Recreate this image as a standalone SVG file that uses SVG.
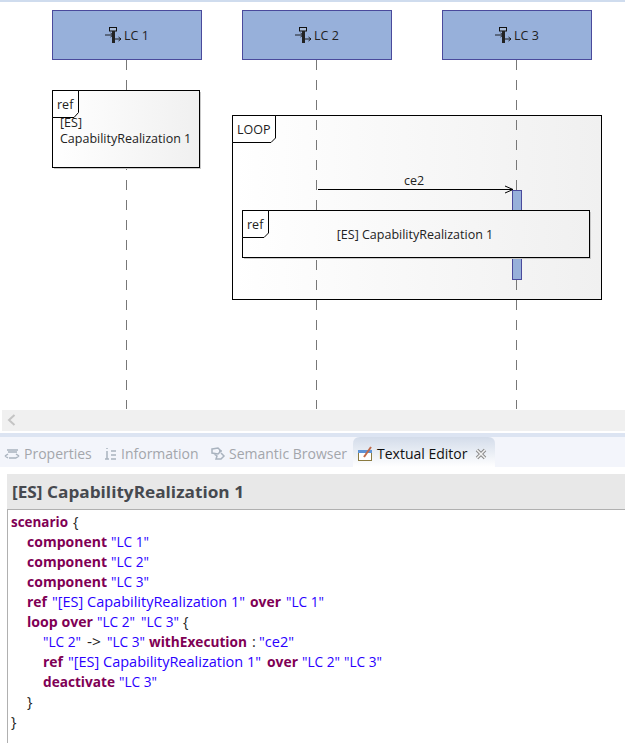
<svg xmlns="http://www.w3.org/2000/svg" width="625" height="743" viewBox="0 0 625 743">
<style>
text{font-family:"Open Sans","Noto Sans","Liberation Sans",sans-serif;font-size:12.5px;fill:#222}
.lc{fill:#97b0da;stroke:#4a4a9c;stroke-width:1}
.life{stroke:#777;stroke-width:1;stroke-dasharray:10 10;fill:none}
.frame{stroke:#000;stroke-width:1;fill:url(#g)}
.tab{stroke:#000;stroke-width:1;fill:#fff}
.code{font-size:14.5px}
.k{fill:#7f0055;font-weight:700}
.s{fill:#2a00ff}
.p{fill:#222}
.dim{fill:#a3a6ab;font-size:14px}
</style>
<defs>
<linearGradient id="g" x1="0" x2="1" y1="0" y2="0"><stop offset="0" stop-color="#fff"/><stop offset="1" stop-color="#f0f0f0"/></linearGradient>
<linearGradient id="t" x1="0" x2="0" y1="0" y2="1"><stop offset="0" stop-color="#d3dcea"/><stop offset="1" stop-color="#fff"/></linearGradient>
<marker id="open" markerWidth="10" markerHeight="10" refX="9" refY="5" orient="auto" markerUnits="userSpaceOnUse"><path d="M1 1.500L9 5L1 8.500" fill="none" stroke="#000"/></marker>
<g id="comp"><path d="M-8 0h8M0 0l-2.500 -2M0 0l-2.500 2M2 4h6M8 4l-2.500 -2M8 4l-2.500 2" stroke="#111" fill="none" stroke-width=".9"/><rect x="-3.500" y="-7.500" width="7" height="3.500" fill="#a9bcd9" stroke="#111"/><rect x="-1" y="-4" width="3" height="12" fill="#222"/></g>
</defs>
<rect width="625" height="743" fill="#fff"/>
<rect width="625" height="2" fill="#cfdcee"/>
<g id="connectors">
<path class="life" d="M126.500 60V409M316.500 60V409M516.500 60V409"/>
</g>
<g id="lc1"><rect class="lc" x="52.500" y="10.500" width="149" height="49"/><use href="#comp" x="113" y="35"/><text x="124" y="40">LC 1</text></g>
<g id="lc2"><rect class="lc" x="242.500" y="10.500" width="149" height="49"/><use href="#comp" x="303" y="35"/><text x="314" y="40">LC 2</text></g>
<g id="lc3"><rect class="lc" x="442.500" y="10.500" width="149" height="49"/><use href="#comp" x="503" y="35"/><text x="514" y="40">LC 3</text></g>
<g id="ref1">
<rect x="54" y="92" width="147" height="77" fill="#c9c9c9"/>
<rect class="frame" x="52.500" y="90.500" width="147" height="77"/>
<text x="60" y="127">[ES]</text><text x="60" y="143">CapabilityRealization 1</text>
<path class="tab" d="M52.500 90.500H78.500V112.500L74 117.500H52.500Z"/>
<text x="57" y="109">ref</text>
</g>
<g id="loop">
<rect class="frame" x="232.500" y="115.500" width="369" height="184"/>
<path class="tab" d="M232.500 115.500H275.500V138L271 142.500H232.500Z"/>
<text x="237" y="134">LOOP</text>
</g>
<g id="connectors-2">
<path class="life" d="M316.500 120V300M516.500 120V300"/>
<path d="M318 189.500H513" stroke="#000" fill="none" marker-end="url(#open)"/>
<text x="414" y="185" text-anchor="middle">ce2</text>
</g>
<g id="exec"><rect class="lc" x="512.500" y="190.500" width="9" height="89"/></g>
<g id="ref2">
<rect x="244" y="212" width="347" height="47" fill="#c9c9c9"/>
<rect class="frame" x="242.500" y="210.500" width="347" height="47"/>
<path class="tab" d="M242.500 210.500H268.500V233L264 237.500H242.500Z"/>
<text x="247" y="229">ref</text>
<text x="415" y="239" text-anchor="middle">[ES] CapabilityRealization 1</text>
</g>
<g id="panel">
<rect x="2" y="410" width="623" height="21" fill="#f0f0f0"/>
<path d="M14.500 415L9 420L14.500 425" fill="none" stroke="#c4c4c4" stroke-width="2"/>
<rect y="433" width="625" height="4" fill="#dce4f2"/>
<rect y="437" width="625" height="30" fill="#f3f5fb"/>
<rect y="467" width="625" height="7" fill="#fff"/>
<path d="M353 467V444Q353 437 360 437H488Q495 437 495 444V467Z" fill="url(#t)"/>
<g fill="none" stroke="#a9b3bf" stroke-width="1.500"><path d="M7 450h11M8 452h9M5 456l3-2M5 456l3 2M19 456l-3-2M19 456l-3 2M9 458h7"/><path d="M107 448v1M107 451v8M105 459h4M111 451h5M111 455h5M111 459h5"/><path d="M212 449l6-1 3 3-3 3-6-1zM214 454l3 2-1 3h5l3-3-3-3M219 451h3"/></g>
<text class="dim" x="24" y="459">Properties</text>
<text class="dim" x="121" y="459">Information</text>
<text class="dim" x="229" y="459">Semantic Browser</text>
<rect x="358.500" y="450.500" width="13" height="10" fill="#fff" stroke="#8a7a40"/><path d="M358 450h14v3h-14z" fill="#5e93d6"/><path d="M364 457l7-10" stroke="#c06a4a" stroke-width="2"/>
<text x="377" y="459" style="font-size:14px;fill:#111">Textual Editor</text>
<path d="M477 450l8 8M485 450l-8 8" stroke="#8a8a8a" stroke-width="3.500"/><path d="M477 450l8 8M485 450l-8 8" stroke="#f2f2f2" stroke-width="1.500"/>
<rect x="7" y="474" width="618" height="35" fill="#e8e8e8"/>
<rect x="7" y="509" width="618" height="1" fill="#b0b0b0"/>
<rect x="7" y="509" width="1" height="234" fill="#b0b0b0"/>
<text x="12" y="498" style="font-size:16.5px;font-weight:700;fill:#46494f" textLength="232" lengthAdjust="spacingAndGlyphs">[ES] CapabilityRealization 1</text>
</g>
<g id="code">
<text class="code k" x="11" y="527" textLength="57" lengthAdjust="spacingAndGlyphs">scenario</text><text class="code p" x="73" y="527">{</text>
<text class="code k" x="27" y="547" textLength="80" lengthAdjust="spacingAndGlyphs">component</text><text class="code s" x="111" y="547" textLength="38" lengthAdjust="spacingAndGlyphs">"LC 1"</text>
<text class="code k" x="27" y="567" textLength="80" lengthAdjust="spacingAndGlyphs">component</text><text class="code s" x="111" y="567" textLength="38" lengthAdjust="spacingAndGlyphs">"LC 2"</text>
<text class="code k" x="27" y="587" textLength="80" lengthAdjust="spacingAndGlyphs">component</text><text class="code s" x="111" y="587" textLength="38" lengthAdjust="spacingAndGlyphs">"LC 3"</text>
<text class="code k" x="27" y="607" textLength="20" lengthAdjust="spacingAndGlyphs">ref</text><text class="code s" x="52" y="607" textLength="193" lengthAdjust="spacingAndGlyphs">"[ES] CapabilityRealization 1"</text><text class="code k" x="250" y="607" textLength="31" lengthAdjust="spacingAndGlyphs">over</text><text class="code s" x="286" y="607" textLength="38" lengthAdjust="spacingAndGlyphs">"LC 1"</text>
<text class="code k" x="27" y="627" textLength="66" lengthAdjust="spacingAndGlyphs">loop over</text><text class="code s" x="97" y="627" textLength="38" lengthAdjust="spacingAndGlyphs">"LC 2"</text><text class="code s" x="141" y="627" textLength="38" lengthAdjust="spacingAndGlyphs">"LC 3"</text><text class="code p" x="183" y="627">{</text>
<text class="code s" x="43" y="647" textLength="38" lengthAdjust="spacingAndGlyphs">"LC 2"</text><text class="code p" x="87" y="647" textLength="14" lengthAdjust="spacingAndGlyphs">-&gt;</text><text class="code s" x="107" y="647" textLength="38" lengthAdjust="spacingAndGlyphs">"LC 3"</text><text class="code k" x="149" y="647" textLength="98" lengthAdjust="spacingAndGlyphs">withExecution</text><text class="code p" x="252" y="647">:</text><text class="code s" x="259" y="647" textLength="35" lengthAdjust="spacingAndGlyphs">"ce2"</text>
<text class="code k" x="43" y="667" textLength="20" lengthAdjust="spacingAndGlyphs">ref</text><text class="code s" x="68" y="667" textLength="193" lengthAdjust="spacingAndGlyphs">"[ES] CapabilityRealization 1"</text><text class="code k" x="267" y="667" textLength="31" lengthAdjust="spacingAndGlyphs">over</text><text class="code s" x="302" y="667" textLength="38" lengthAdjust="spacingAndGlyphs">"LC 2"</text><text class="code s" x="344" y="667" textLength="38" lengthAdjust="spacingAndGlyphs">"LC 3"</text>
<text class="code k" x="43" y="687" textLength="72" lengthAdjust="spacingAndGlyphs">deactivate</text><text class="code s" x="119" y="687" textLength="38" lengthAdjust="spacingAndGlyphs">"LC 3"</text>
<text class="code p" x="27" y="707">}</text>
<text class="code p" x="11" y="727">}</text>
</g>
</svg>
